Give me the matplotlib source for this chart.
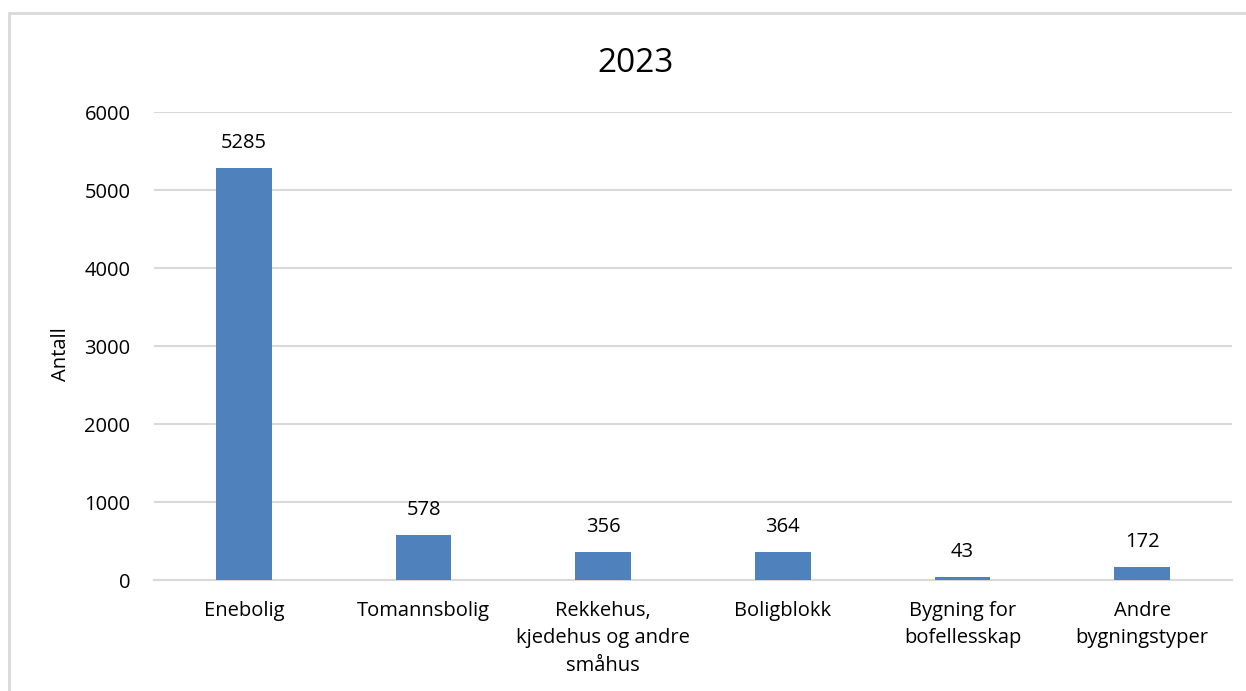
import matplotlib
matplotlib.use("Agg")

import matplotlib.pyplot as plt
import matplotlib.patches as mpatches
import numpy as np

# ── Data ─────────────────────────────────────────────────────────────
categories = [
    "Enebolig",
    "Tomannsbolig",
    "Rekkehus,\nkjedehus og andre\nsmåhus",
    "Boligblokk",
    "Bygning for\nbofellesskap",
    "Andre\nbygningstyper",
]
counts = [5285, 578, 356, 364, 43, 172]
yticks = [0, 1000, 2000, 3000, 4000, 5000, 6000]

BAR_COLOR = "#4F81BD"
GRID_COLOR = "#D9D9D9"
TEXT_COLOR = "#000000"
FS = 14.5

plt.rcParams["font.family"] = ["Open Sans", "DejaVu Sans"]

W, H = 1246, 691
fig = plt.figure(figsize=(W / 100, H / 100), dpi=100)

# light chart frame, running off the right and bottom edges
frame = mpatches.Rectangle(
    (9 / W, -0.1), 1.2, (H - 13) / H + 0.1,
    transform=fig.transFigure, fill=False,
    edgecolor="#D9D9D9", linewidth=2, zorder=0,
)
fig.patches.append(frame)

left, right = 154 / W, 1232 / W
bottom, top = 1 - 580 / H, 1 - 112 / H
ax = fig.add_axes([left, bottom, right - left, top - bottom])

x = np.arange(len(categories))
ax.bar(x, counts, width=0.31, color=BAR_COLOR, zorder=3)

for xi, v in zip(x, counts):
    ax.text(xi, v + 190, f"{v}", ha="center", va="bottom",
            fontsize=FS, color=TEXT_COLOR)

ax.set_xlim(-0.5, len(categories) - 0.5)
ax.set_ylim(0, 6000)
ax.set_yticks(yticks)
ax.set_yticklabels([str(t) for t in yticks], fontsize=FS)
ax.set_xticks(x)
ax.set_xticklabels(categories, fontsize=FS, linespacing=1.5, va="top")

ax.yaxis.grid(True, color=GRID_COLOR, linewidth=1.5, zorder=0)
ax.tick_params(axis="both", length=0, colors=TEXT_COLOR)
ax.tick_params(axis="y", pad=17)
ax.tick_params(axis="x", pad=15)
for side in ["top", "right", "left"]:
    ax.spines[side].set_visible(False)
ax.spines["bottom"].set_color(GRID_COLOR)
ax.spines["bottom"].set_linewidth(1.5)

ax.set_ylabel("Antall", fontsize=FS)
ax.yaxis.set_label_coords(-0.077, 0.483)
fig.text(636 / W, 1 - 63 / H, "2023", ha="center", va="center",
         fontsize=24, color=TEXT_COLOR)

fig.savefig("out.png", dpi=100)
